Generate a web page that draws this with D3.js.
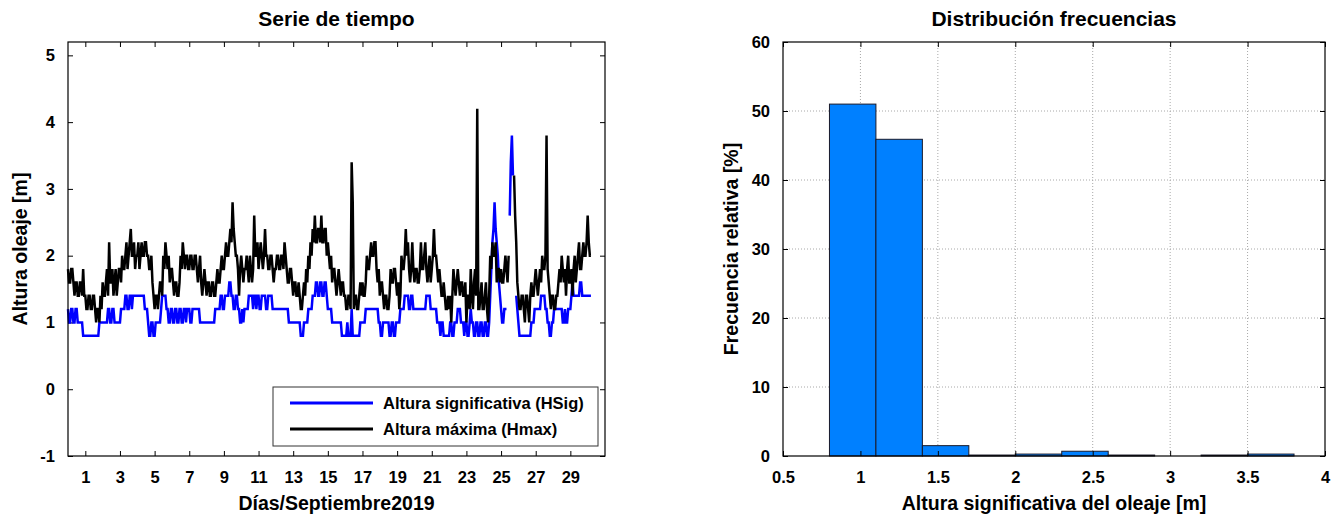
<!DOCTYPE html>
<html>
<head>
<meta charset="utf-8">
<script src="https://cdn.jsdelivr.net/npm/d3@7"></script>
<style>
  body { margin: 0; background: #fff; }
  text { font-family: "Liberation Sans", Arial, sans-serif; font-weight: bold; fill: #000; }
</style>
</head>
<body>
<svg id="fig" width="1341" height="518"></svg>
<script>
// readings every 1.5 h, stored as two values per 3-h block:
// xxxA = first reading of the block, xxxB = second reading; null = gap
const blocksPerDay = 8;

const hsigA = [
  1.2,1.0,1.2,1.0,1.2,1.0,1.0,0.8,
  0.8,0.8,0.8,0.8,0.8,0.8,0.8,1.0,
  1.0,1.0,1.0,1.2,1.0,1.2,1.0,1.0,
  1.0,1.2,1.2,1.4,1.2,1.4,1.4,1.4,
  1.4,1.4,1.4,1.4,1.2,1.0,0.8,1.0,
  0.8,1.0,1.0,1.2,1.4,1.4,1.2,1.0,
  1.2,1.0,1.2,1.0,1.2,1.0,1.2,1.2,
  1.2,1.0,1.2,1.2,1.2,1.0,1.0,1.0,
  1.0,1.0,1.0,1.0,1.2,1.2,1.2,1.4,
  1.2,1.4,1.4,1.6,1.4,1.2,1.4,1.2,
  1.0,1.0,1.2,1.2,1.4,1.4,1.4,1.2,
  1.4,1.2,1.4,1.4,1.2,1.4,1.4,1.2,
  1.2,1.2,1.2,1.2,1.2,1.2,1.0,1.0,
  1.0,1.0,1.0,1.0,0.8,1.0,1.0,1.2,
  1.2,1.4,1.4,1.6,1.4,1.6,1.4,1.6,
  1.2,1.2,1.0,1.0,1.0,1.0,1.0,0.8,
  0.8,1.0,0.8,1.2,0.8,0.8,0.8,1.0,
  1.0,1.0,1.2,1.2,1.2,1.2,1.2,1.2,
  1.0,0.8,1.0,1.0,1.0,0.8,1.0,0.8,
  1.0,1.0,1.2,1.2,1.4,1.4,1.2,1.4,
  1.2,1.2,1.2,1.2,1.2,1.2,1.4,1.4,
  1.2,1.2,1.2,1.0,0.8,1.0,0.8,0.8,
  0.8,1.0,0.8,1.0,1.2,1.2,1.0,0.8,
  1.0,0.8,1.2,1.0,0.8,1.0,0.8,1.0,
  0.8,1.0,0.8,1.4,2.2,2.8,2.2,1.6,
  1.2,1.0,1.2,null,2.6,3.8,null,1.4,
  1.0,0.8,0.8,0.8,0.8,0.8,1.0,1.0,
  1.2,1.2,1.2,1.4,1.4,1.2,1.0,0.8,
  1.0,1.2,1.2,1.2,1.2,1.0,1.0,1.2,
  1.2,1.6,1.4,1.4,1.4,1.6,1.4,1.4,
  1.4,1.4
];
const hsigB = [
  1.0,1.2,1.0,1.2,1.0,1.0,1.0,0.8,
  0.8,0.8,0.8,0.8,0.8,0.8,1.0,1.0,
  1.0,1.0,1.2,1.0,1.2,1.0,1.0,1.0,
  1.2,1.2,1.4,1.2,1.4,1.2,1.4,1.4,
  1.4,1.4,1.4,1.2,1.2,0.8,1.0,0.8,
  1.0,1.0,1.0,1.4,1.4,1.2,1.0,1.2,
  1.0,1.2,1.0,1.2,1.0,1.2,1.0,1.2,
  1.0,1.2,1.2,1.2,1.2,1.0,1.0,1.0,
  1.0,1.0,1.0,1.0,1.2,1.2,1.4,1.2,
  1.4,1.4,1.6,1.4,1.2,1.4,1.2,1.0,
  1.2,1.2,1.2,1.4,1.4,1.2,1.4,1.4,
  1.2,1.4,1.4,1.2,1.4,1.4,1.2,1.2,
  1.2,1.2,1.2,1.2,1.2,1.2,1.0,1.0,
  1.0,1.0,1.0,0.8,0.8,1.0,1.0,1.2,
  1.2,1.4,1.6,1.4,1.6,1.4,1.6,1.4,
  1.2,1.2,1.0,1.0,1.0,1.0,0.8,0.8,
  0.8,0.8,0.8,0.8,0.8,0.8,0.8,1.0,
  1.0,1.2,1.2,1.2,1.2,1.2,1.2,1.0,
  0.8,1.0,1.0,1.0,0.8,1.0,0.8,1.0,
  1.0,1.2,1.2,1.4,1.4,1.2,1.4,1.2,
  1.2,1.2,1.2,1.2,1.2,1.4,1.4,1.2,
  1.2,1.2,1.0,1.0,1.0,0.8,0.8,0.8,
  1.0,0.8,1.0,1.0,1.2,1.0,1.0,1.0,
  0.8,1.0,1.0,0.8,1.0,0.8,1.0,0.8,
  1.0,0.8,1.0,1.8,2.4,2.4,2.0,1.4,
  1.0,1.2,1.2,null,3.4,3.2,null,1.2,
  0.8,0.8,0.8,0.8,0.8,0.8,1.0,1.2,
  1.2,1.2,1.4,1.4,1.2,1.0,0.8,1.0,
  1.2,1.2,1.2,1.2,1.0,1.2,1.0,1.2,
  1.4,1.4,1.4,1.4,1.6,1.4,1.4,1.4,
  1.4,1.4
];

const hmaxA = [
  1.8,1.6,1.8,1.4,1.6,1.4,1.6,1.8,
  1.4,1.2,1.4,1.2,1.4,1.0,1.2,1.4,
  1.6,1.4,1.8,2.2,1.6,1.4,1.8,1.6,
  1.8,2.0,1.8,2.2,2.0,2.4,2.0,1.8,
  2.0,1.8,2.2,2.0,2.2,2.0,1.8,1.6,
  1.2,1.4,1.4,1.6,2.0,2.2,1.8,1.6,
  1.8,1.4,1.6,1.4,2.0,2.2,1.8,2.0,
  1.8,2.0,1.8,2.0,1.6,2.0,1.4,1.8,
  1.4,1.6,1.4,1.6,1.4,1.8,1.6,2.0,
  1.8,2.2,2.0,2.4,2.8,2.2,2.0,1.4,
  2.0,1.6,1.8,1.8,2.0,1.6,2.6,2.0,
  1.8,2.2,1.8,2.4,2.0,1.8,2.0,1.6,
  1.8,2.0,1.8,2.0,2.2,1.8,1.6,1.8,
  1.4,1.6,1.4,1.4,1.2,1.6,1.8,2.0,
  2.2,2.4,2.6,2.2,2.4,2.6,2.2,2.4,
  2.2,1.8,1.6,1.8,1.4,1.8,1.4,1.6,
  1.4,1.2,1.4,3.4,1.2,1.4,1.2,1.6,
  1.6,1.4,2.0,1.8,2.2,2.0,2.2,1.6,
  1.4,1.6,1.2,1.4,1.2,1.8,1.6,1.8,
  1.4,1.2,2.0,1.8,2.4,2.2,1.6,2.2,
  1.6,1.8,1.6,2.2,1.8,2.2,1.6,2.0,
  1.8,2.4,2.0,1.6,1.6,1.4,1.4,1.2,
  1.2,1.0,1.8,1.4,1.8,1.4,1.6,1.4,
  1.0,1.4,1.8,1.2,1.8,4.2,1.2,1.6,
  1.2,1.6,1.0,2.0,2.2,2.0,1.6,1.8,
  1.8,1.6,2.0,1.6,null,null,3.2,2.2,
  1.4,1.2,1.4,1.0,1.4,1.0,1.6,1.4,
  1.8,1.4,1.8,2.0,1.8,3.8,1.6,1.2,
  1.4,1.2,1.4,1.8,2.0,1.6,1.4,2.0,
  1.6,1.4,2.0,1.8,2.2,1.8,2.2,2.0,
  2.6,2.0
];
const hmaxB = [
  1.6,1.8,1.6,1.6,1.4,1.6,1.4,1.4,
  1.2,1.4,1.2,1.4,1.2,1.2,1.0,1.2,
  1.4,1.6,1.4,1.6,1.8,1.6,1.4,1.8,
  1.6,1.8,2.0,1.8,2.2,2.0,2.2,2.0,
  2.2,2.0,2.0,2.2,2.0,1.8,2.0,1.4,
  1.4,1.2,1.6,1.4,1.8,2.0,2.0,1.8,
  1.6,1.6,1.4,1.6,1.8,2.0,2.0,1.8,
  2.0,1.8,2.0,1.8,1.8,1.6,1.6,1.6,
  1.6,1.4,1.6,1.4,1.6,1.6,1.8,1.8,
  2.0,2.0,2.2,2.2,2.4,2.0,1.8,1.8,
  1.8,1.8,2.0,1.6,1.8,1.8,2.0,2.2,
  2.0,2.0,2.0,2.0,1.8,2.0,1.8,1.8,
  2.0,1.8,2.0,1.8,2.0,1.6,1.8,1.6,
  1.6,1.4,1.6,1.2,1.4,1.4,1.6,1.8,
  2.0,2.2,2.2,2.4,2.2,2.2,2.4,2.0,
  2.0,2.0,1.8,1.6,1.6,1.6,1.6,1.4,
  1.2,1.4,1.2,2.8,1.4,1.2,1.4,1.4,
  1.4,1.6,1.8,2.0,2.0,2.2,1.8,1.8,
  1.6,1.4,1.4,1.2,1.4,1.6,1.8,1.6,
  1.6,1.4,1.8,2.0,2.0,1.8,1.8,1.8,
  1.8,1.6,1.8,1.8,2.0,1.8,1.8,1.6,
  2.0,2.0,1.8,1.8,1.4,1.6,1.2,1.4,
  1.4,1.4,1.6,1.6,1.6,1.6,1.4,1.6,
  1.4,1.2,1.4,1.6,1.4,1.2,1.4,1.2,
  1.4,1.2,1.4,1.8,2.0,2.2,1.8,1.6,
  1.6,1.8,1.8,2.0,null,null,2.6,1.6,
  1.2,1.4,1.2,1.4,1.2,1.4,1.4,1.6,
  1.6,1.6,1.6,1.8,2.0,1.8,1.4,1.4,
  1.2,1.4,1.6,1.6,1.8,1.8,1.8,1.6,
  1.8,1.8,1.6,2.0,1.8,2.0,2.0,2.2,
  2.2,2.0
];

const dayTicks = [1,3,5,7,9,11,13,15,17,19,21,23,25,27,29];
const heightTicks = [-1,0,1,2,3,4,5];
const seriesNames = ['Altura significativa (HSig)', 'Altura máxima (Hmax)'];
const seriesColors = ['#0000ff', '#000000'];

// histogram of HSig
const binEdges = [0.8,1.1,1.4,1.7,2.0,2.3,2.6,2.9,3.2,3.5,3.8];
const binFreq = [51.0,45.9,1.5,0.14,0.28,0.69,0.14,0,0.14,0.28];
const freqTicks = [0,10,20,30,40,50,60];
const hsTicks = [0.5,1,1.5,2,2.5,3,3.5,4];

const svg = d3.select('#fig');
const fmt = d => String(d);   // MATLAB style: 5, -1, 0.5

function styleAxis(g, size) {
  g.select('.domain').remove();
  g.selectAll('.tick line').attr('stroke', '#000');
  g.selectAll('.tick text').style('font-size', size + 'px').attr('fill', '#000');
}

// ---------- left: time series ----------
const L = {left: 68, right: 605, top: 42, bottom: 456};
const x1 = d3.scaleLinear().domain([0, 31]).range([L.left, L.right]);
const y1 = d3.scaleLinear().domain([-1, 5.2]).range([L.bottom, L.top]);

const g1 = svg.append('g');

g1.append('g').attr('transform', `translate(0,${L.bottom})`)
  .call(d3.axisBottom(x1).tickValues(dayTicks).tickSize(-5).tickPadding(15).tickFormat(fmt))
  .call(g => styleAxis(g, 16.5));
g1.append('g').attr('transform', `translate(0,${L.top})`)
  .call(d3.axisTop(x1).tickValues(dayTicks).tickSize(-5).tickFormat(''))
  .call(g => styleAxis(g, 16));
g1.append('g').attr('transform', `translate(${L.left},0)`)
  .call(d3.axisLeft(y1).tickValues(heightTicks).tickSize(-5).tickPadding(13).tickFormat(fmt))
  .call(g => styleAxis(g, 16.5));
g1.append('g').attr('transform', `translate(${L.right},0)`)
  .call(d3.axisRight(y1).tickValues(heightTicks).tickSize(-5).tickFormat(''))
  .call(g => styleAxis(g, 16));

const toSeries = (a, b) => d3.merge(a.map((v, i) => [v, b[i]]));
const line = d3.line()
  .defined(d => d != null)
  .x((d, i) => x1(i / (2 * blocksPerDay)))
  .y(d => y1(d));

g1.append('path').datum(toSeries(hsigA, hsigB))
  .attr('fill', 'none').attr('stroke', seriesColors[0]).attr('stroke-width', 2.5)
  .attr('d', line);
g1.append('path').datum(toSeries(hmaxA, hmaxB))
  .attr('fill', 'none').attr('stroke', seriesColors[1]).attr('stroke-width', 2.5)
  .attr('d', line);

g1.append('rect')
  .attr('x', L.left).attr('y', L.top)
  .attr('width', L.right - L.left).attr('height', L.bottom - L.top)
  .attr('fill', 'none').attr('stroke', '#000').attr('stroke-width', 1.2);

// legend
const leg = g1.append('g').attr('transform', 'translate(273,387)');
leg.append('rect').attr('width', 325).attr('height', 59)
  .attr('fill', '#fff').attr('stroke', '#333').attr('stroke-width', 1);
seriesNames.forEach((name, i) => {
  const yy = 16 + i * 26;
  leg.append('line').attr('x1', 17).attr('x2', 100).attr('y1', yy).attr('y2', yy)
    .attr('stroke', seriesColors[i]).attr('stroke-width', 2.8);
  leg.append('text').attr('x', 110).attr('y', yy + 6).style('font-size', '16.5px').text(name);
});

g1.append('text').attr('x', (L.left + L.right) / 2).attr('y', 26)
  .attr('text-anchor', 'middle').style('font-size', '21px').text('Serie de tiempo');
g1.append('text').attr('x', (L.left + L.right) / 2).attr('y', 510)
  .attr('text-anchor', 'middle').style('font-size', '19.5px').text('Días/Septiembre2019');
g1.append('text').attr('transform', `translate(27,${(L.top + L.bottom) / 2}) rotate(-90)`)
  .attr('text-anchor', 'middle').style('font-size', '19.5px').text('Altura oleaje [m]');

// ---------- right: histogram ----------
const R = {left: 783, right: 1325, top: 42, bottom: 456};
const x2 = d3.scaleLinear().domain([0.5, 4]).range([R.left, R.right]);
const y2 = d3.scaleLinear().domain([0, 60]).range([R.bottom, R.top]);

const g2 = svg.append('g');

// dotted grid
g2.append('g').selectAll('line').data(hsTicks.slice(1, -1)).join('line')
  .attr('x1', d => x2(d)).attr('x2', d => x2(d))
  .attr('y1', R.top).attr('y2', R.bottom)
  .attr('stroke', '#a8a8a8').attr('stroke-width', 1).attr('stroke-dasharray', '1,2');
g2.append('g').selectAll('line').data(freqTicks.slice(1, -1)).join('line')
  .attr('x1', R.left).attr('x2', R.right)
  .attr('y1', d => y2(d)).attr('y2', d => y2(d))
  .attr('stroke', '#a8a8a8').attr('stroke-width', 1).attr('stroke-dasharray', '1,2');

g2.append('g').selectAll('rect').data(binFreq).join('rect')
  .attr('x', (d, i) => x2(binEdges[i]))
  .attr('width', (d, i) => x2(binEdges[i + 1]) - x2(binEdges[i]))
  .attr('y', d => y2(d))
  .attr('height', d => y2(0) - y2(d))
  .attr('fill', '#0080ff')
  .attr('stroke', d => d > 0 ? '#1a1a2a' : 'none')
  .attr('stroke-width', 1);

g2.append('g').attr('transform', `translate(0,${R.bottom})`)
  .call(d3.axisBottom(x2).tickValues(hsTicks).tickSize(-5).tickPadding(15).tickFormat(fmt))
  .call(g => styleAxis(g, 16.5));
g2.append('g').attr('transform', `translate(0,${R.top})`)
  .call(d3.axisTop(x2).tickValues(hsTicks).tickSize(-5).tickFormat(''))
  .call(g => styleAxis(g, 16));
g2.append('g').attr('transform', `translate(${R.left},0)`)
  .call(d3.axisLeft(y2).tickValues(freqTicks).tickSize(-5).tickPadding(13).tickFormat(fmt))
  .call(g => styleAxis(g, 16.5));
g2.append('g').attr('transform', `translate(${R.right},0)`)
  .call(d3.axisRight(y2).tickValues(freqTicks).tickSize(-5).tickFormat(''))
  .call(g => styleAxis(g, 16));

g2.append('rect')
  .attr('x', R.left).attr('y', R.top)
  .attr('width', R.right - R.left).attr('height', R.bottom - R.top)
  .attr('fill', 'none').attr('stroke', '#000').attr('stroke-width', 1.2);

g2.append('text').attr('x', (R.left + R.right) / 2).attr('y', 26)
  .attr('text-anchor', 'middle').style('font-size', '21px').text('Distribución frecuencias');
g2.append('text').attr('x', (R.left + R.right) / 2).attr('y', 510)
  .attr('text-anchor', 'middle').style('font-size', '19.5px').text('Altura significativa del oleaje [m]');
g2.append('text').attr('transform', `translate(738,${(R.top + R.bottom) / 2}) rotate(-90)`)
  .attr('text-anchor', 'middle').style('font-size', '19.5px').text('Frecuencia relativa [%]');
</script>
</body>
</html>
